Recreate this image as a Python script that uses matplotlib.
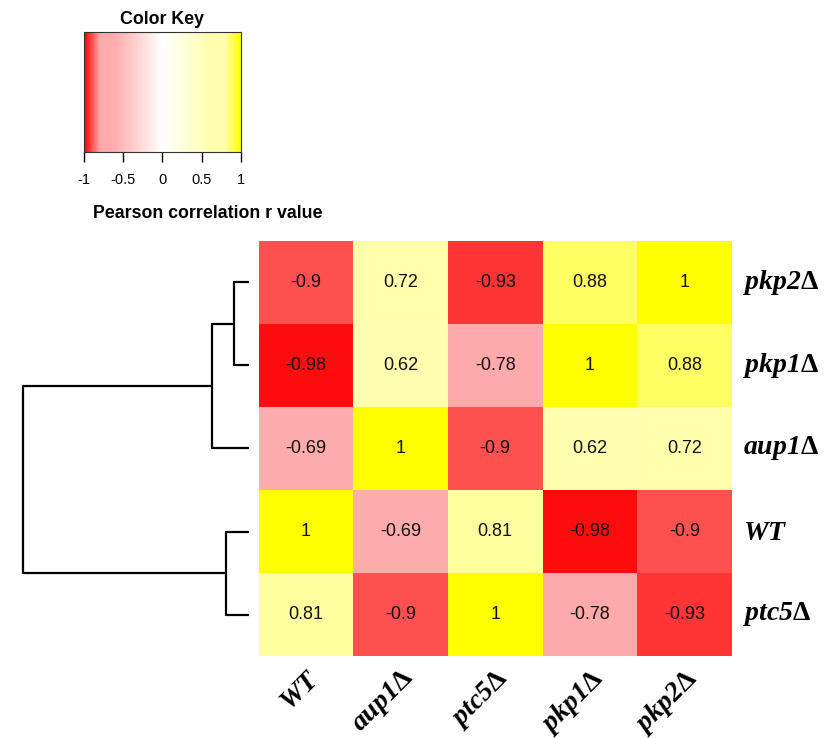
import numpy as np
import matplotlib
matplotlib.use('Agg')
import matplotlib.pyplot as plt
from matplotlib.colors import LinearSegmentedColormap

# row order (top to bottom) and column order from the clustered heatmap
row_labels = ['pkp2Δ', 'pkp1Δ', 'aup1Δ', 'WT', 'ptc5Δ']
col_labels = ['WT', 'aup1Δ', 'ptc5Δ', 'pkp1Δ', 'pkp2Δ']
r_pkp2 = [-0.9, 0.72, -0.93, 0.88, 1]
r_pkp1 = [-0.98, 0.62, -0.78, 1, 0.88]
r_aup1 = [-0.69, 1, -0.9, 0.62, 0.72]
r_wt = [1, -0.69, 0.81, -0.98, -0.9]
r_ptc5 = [0.81, -0.9, 1, -0.78, -0.93]

# dendrogram merges: (left node, right node, height); leaves 0..4 top to bottom
merges = [(0, 1, 0.12), (3, 4, 0.19), (5, 2, 0.30), (7, 6, 1.85)]
key_ticks = [-1, -0.5, 0, 0.5, 1]

mat = np.array([r_pkp2, r_pkp1, r_aup1, r_wt, r_ptc5])

stops = [(-1.0, '#FF0000'), (-0.8, '#FFAAAA'), (-0.6, '#FFAEAE'),
         (0.0, '#FFFFFF'), (0.6, '#FFFFB0'), (0.8, '#FFFFAA'), (1.0, '#FFFF00')]
cmap = LinearSegmentedColormap.from_list(
    'rwy', [((v + 1) / 2, c) for v, c in stops])

# bold italic gene name (digits too), upright delta
plt.rcParams['mathtext.fontset'] = 'custom'
plt.rcParams['mathtext.it'] = 'Liberation Serif:italic:bold'
plt.rcParams['mathtext.rm'] = 'Liberation Serif:italic:bold'
plt.rcParams['mathtext.sf'] = 'Liberation Serif:bold'

def genelabel(name):
    if name.endswith('Δ'):
        return r'$\mathit{%s}\mathsf{Δ}$' % name[:-1]
    return r'$\mathit{%s}$' % name

W, H = 833, 738
fig = plt.figure(figsize=(W / 100, H / 100), dpi=100)

def box(l, t, r, b):
    return [l / W, 1 - b / H, (r - l) / W, (b - t) / H]

# heatmap
ax = fig.add_axes(box(258.5, 241, 732, 656))
nr, nc = mat.shape
ax.pcolormesh(np.arange(nc + 1), np.arange(nr + 1), mat, cmap=cmap,
              vmin=-1, vmax=1)
ax.set_xlim(0, nc)
ax.set_ylim(nr, 0)
for i in range(nr):
    for j in range(nc):
        ax.text(j + 0.5, i + 0.5, '%g' % mat[i, j], ha='center', va='center',
                fontsize=13, family='Liberation Sans', color='#111111')
for s in ax.spines.values():
    s.set_visible(False)
ax.set_xticks([])
ax.set_yticks([])
for i, name in enumerate(row_labels):
    ax.text(nc + 0.12, i + 0.5, genelabel(name), ha='left', va='center',
            fontsize=20)
for j, name in enumerate(col_labels):
    ax.text(j + 0.6, nr + 0.22, genelabel(name), ha='right', va='center',
            rotation=45, rotation_mode='anchor', fontsize=20)

# row dendrogram
dax = fig.add_axes(box(22.7, 241, 249, 656))
pos = {k: k + 0.5 for k in range(nr)}
hgt = {k: 0.0 for k in range(nr)}
node = nr
for a, b, h in merges:
    ya, yb = pos[a], pos[b]
    dax.plot([hgt[a], h, h, hgt[b]], [ya, ya, yb, yb], color='black',
             lw=1.6, solid_capstyle='butt', clip_on=False)
    pos[node] = (ya + yb) / 2
    hgt[node] = h
    node += 1
dax.set_xlim(merges[-1][2], 0)
dax.set_ylim(nr, 0)
dax.axis('off')

# color key
kax = fig.add_axes(box(84, 32.3, 240.7, 151.7))
grad = np.linspace(-1, 1, 400).reshape(1, -1)
kax.imshow(grad, cmap=cmap, vmin=-1, vmax=1, aspect='auto',
           extent=[-1, 1, 0, 1])
kax.set_xlim(-1, 1)
kax.set_yticks([])
kax.set_xticks(key_ticks)
kax.set_xticklabels(['%g' % t for t in key_ticks], family='Liberation Sans',
                    fontsize=10.5)
kax.tick_params(axis='x', length=7, width=1, pad=8)
for s in kax.spines.values():
    s.set_linewidth(0.8)
    s.set_color('#333333')
kax.set_title('Color Key', family='Liberation Sans', weight='bold',
              fontsize=12.8, pad=6)
fig.text(93 / W, 1 - 213 / H, 'Pearson correlation r value',
         family='Liberation Sans', weight='bold', fontsize=12.8,
         ha='left', va='center')

fig.savefig('out.png', dpi=100)
